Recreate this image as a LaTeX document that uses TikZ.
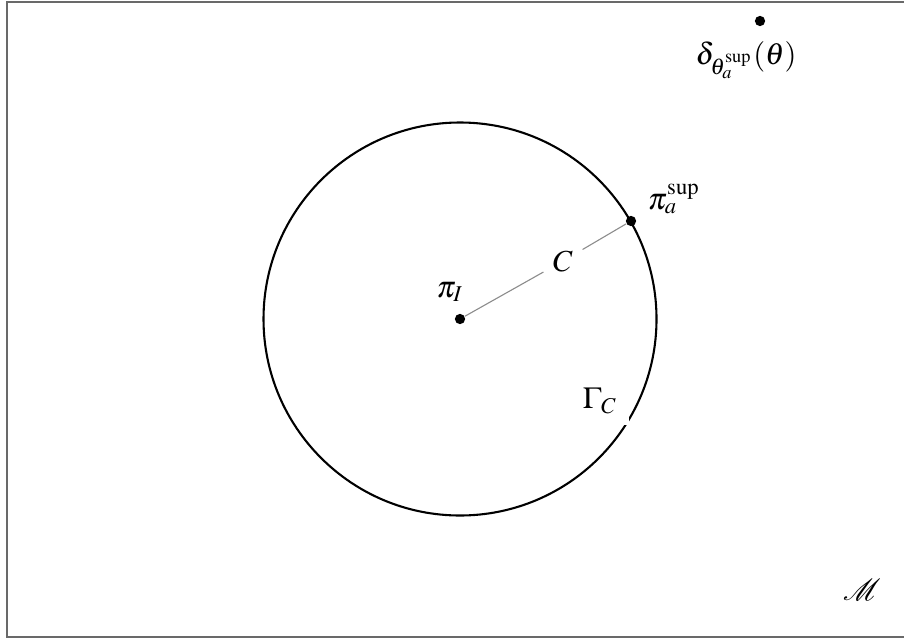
\documentclass[tikz,border=0pt]{standalone}
\usepackage{mathptmx}
\usepackage{mathrsfs}
\definecolor{frameG}{RGB}{105,105,105}
\definecolor{radG}{RGB}{140,140,140}

\begin{document}
\begin{tikzpicture}[x=0.36pt,y=-0.36pt,
  every node/.style={font=\fontsize{11}{13}\selectfont},
  dot/.style={circle,fill=black,inner sep=0pt,minimum size=3.7pt}]
\useasboundingbox (0,0) rectangle (904,639);
\begin{scope}
\clip (0,0) rectangle (904,639);
\draw[frameG,line width=0.75pt] (7,2) rectangle (930,637);
\end{scope}
\draw[line width=0.75pt] (460,319) circle[radius=196.5];
\node[dot] (piI) at (460,319) {};
\node[dot] (pisup) at (631,221) {};
\node[dot] (delta) at (760,21) {};
\node (C) at (563,261) {$C$};
\draw[radG,line width=0.4pt] (piI) -- (C) -- (pisup);
\node (piIlab) at (450,292) {$\pi_I$};
\node (pisuplab) at (674,199) {$\pi_a^{\mathrm{sup}}$};
\node[fill=white,inner sep=4.2pt] (gamma) at (600,401) {$\Gamma_C$};
\node (deltalab) at (746,60) {$\delta_{\theta_a^{\mathrm{sup}}}(\theta)$};
\node (M) at (862,590) {$\mathscr{M}$};
\end{tikzpicture}
\end{document}
